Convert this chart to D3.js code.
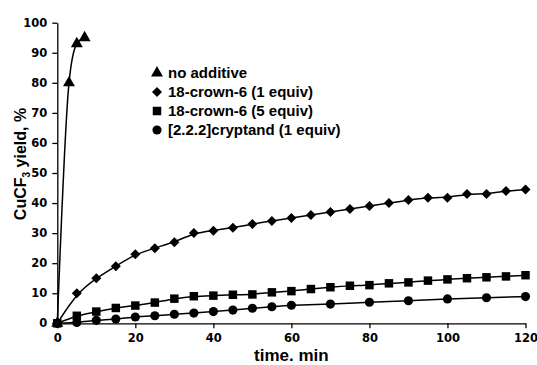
<!DOCTYPE html>
<html>
<head>
<meta charset="utf-8">
<script src="https://cdn.jsdelivr.net/npm/d3@7"></script>
<style>
  html, body { margin: 0; padding: 0; background: #fff; }
  svg { display: block; }
</style>
</head>
<body>
<svg id="chart"></svg>
<script>
// data (time in min, yield in %)
const noAdditiveT = [0, 3, 5, 7];
const noAdditiveY = [0, 80, 93, 95];

const crown1T = [0, 5, 10, 15, 20, 25, 30, 35, 40, 45, 50, 55, 60, 65, 70, 75, 80, 85, 90, 95, 100, 105, 110, 115, 120];
const crown1Y = [0, 10, 15, 19, 23, 25, 27, 30, 30.8, 31.8, 33, 34, 35, 36, 37, 38, 39, 40, 41, 41.8, 41.8, 43, 43, 44, 44.5];

const crown5T = [0, 5, 10, 15, 20, 25, 30, 35, 40, 45, 50, 55, 60, 65, 70, 75, 80, 85, 90, 95, 100, 105, 110, 115, 120];
const crown5Y = [0, 2.5, 3.9, 5.1, 5.9, 6.9, 8.2, 9, 9.2, 9.5, 9.6, 10.3, 10.7, 11.4, 12, 12.5, 12.7, 13.3, 13.6, 14.2, 14.6, 15, 15.3, 15.6, 16];

const cryptT = [0, 5, 10, 15, 20, 25, 30, 35, 40, 45, 50, 55, 60, 70, 80, 90, 100, 110, 120];
const cryptY = [0, 0.3, 1, 1.4, 2.1, 2.5, 3, 3.4, 3.9, 4.4, 5, 5.5, 6, 6.4, 7, 7.5, 8.1, 8.5, 8.9];

const xTicks = [0, 20, 40, 60, 80, 100, 120];
const yTicks = [0, 10, 20, 30, 40, 50, 60, 70, 80, 90, 100];

const seriesNames = ['no additive', '18-crown-6 (1 equiv)', '18-crown-6 (5 equiv)', '[2.2.2]cryptand (1 equiv)'];

const width = 537;
const height = 365;
const marginLeft = 57.3;
const marginRight = 11.5;
const marginTop = 22.7;
const marginBottom = 41.7;

const tickFont = '"DejaVu Sans", sans-serif';
const textFont = '"Liberation Sans", Arial, sans-serif';

const zip = (ts, ys) => ts.map((t, i) => ({ t: t, y: ys[i] }));

// diamond = square turned 45deg
const series = [
  { name: seriesNames[0], data: zip(noAdditiveT, noAdditiveY), symbol: d3.symbolTriangle, size: 62, rot: 0, curve: d3.curveMonotoneX },
  { name: seriesNames[1], data: zip(crown1T, crown1Y), symbol: d3.symbolSquare, size: 50, rot: 45, curve: d3.curveBasis },
  { name: seriesNames[2], data: zip(crown5T, crown5Y), symbol: d3.symbolSquare, size: 72, rot: 0, curve: d3.curveBasis },
  { name: seriesNames[3], data: zip(cryptT, cryptY), symbol: d3.symbolCircle, size: 66, rot: 0, curve: d3.curveBasis }
];

const x = d3.scaleLinear().domain([0, 120]).range([marginLeft, width - marginRight]);
const y = d3.scaleLinear().domain([0, 100]).range([height - marginBottom, marginTop]);

const svg = d3.select('#chart').attr('width', width).attr('height', height);

// x-axis
const xAxis = svg.append('g')
  .attr('transform', `translate(0,${y(0)})`)
  .call(d3.axisBottom(x).tickValues(xTicks).tickSize(5).tickPadding(6).tickSizeOuter(0));
xAxis.select('.domain').attr('stroke-width', 1.3);
xAxis.selectAll('.tick line').attr('stroke-width', 1.3);
xAxis.selectAll('text')
  .attr('font-family', tickFont).attr('font-weight', 'bold').attr('font-size', 11.5).attr('fill', '#000');

// y-axis
const yAxis = svg.append('g')
  .attr('transform', `translate(${x(0)},0)`)
  .call(d3.axisLeft(y).tickValues(yTicks).tickSize(5).tickPadding(5).tickSizeOuter(0));
yAxis.select('.domain').attr('stroke-width', 1.3);
yAxis.selectAll('.tick line').attr('stroke-width', 1.3);
yAxis.selectAll('text')
  .attr('font-family', tickFont).attr('font-weight', 'bold').attr('font-size', 11.5).attr('fill', '#000');

// axis titles
svg.append('text')
  .attr('x', (x(0) + x(120)) / 2)
  .attr('y', 361)
  .attr('text-anchor', 'middle')
  .attr('font-family', textFont).attr('font-weight', 'bold').attr('font-size', 17)
  .text('time. min');

const yTitle = svg.append('text')
  .attr('transform', 'translate(26,164) rotate(-90)')
  .attr('text-anchor', 'middle')
  .attr('font-family', textFont).attr('font-weight', 'bold').attr('font-size', 16);
yTitle.append('tspan').text('CuCF');
yTitle.append('tspan').attr('font-size', 10).attr('dy', 4).text('3');
yTitle.append('tspan').attr('dy', -4).text('\u00a0yield, %');

// lines
series.forEach(s => {
  const line = d3.line()
    .x(d => x(d.t))
    .y(d => y(d.y))
    .curve(s.curve);
  svg.append('path')
    .attr('d', line(s.data))
    .attr('fill', 'none')
    .attr('stroke', '#000')
    .attr('stroke-width', 1.5);
});

// markers
series.forEach(s => {
  const sym = d3.symbol().type(s.symbol).size(s.size);
  svg.append('g')
    .selectAll('path')
    .data(s.data)
    .join('path')
    .attr('transform', d => `translate(${x(d.t)},${y(d.y)}) rotate(${s.rot})`)
    .attr('d', sym)
    .attr('fill', '#000');
});

// legend
const legend = svg.append('g').attr('transform', 'translate(157,73)');
const rows = legend.selectAll('g')
  .data(series)
  .join('g')
  .attr('transform', (d, i) => `translate(0,${i * 19})`);
rows.append('path')
  .attr('d', d => d3.symbol().type(d.symbol).size(d.size)())
  .attr('transform', d => `rotate(${d.rot})`)
  .attr('fill', '#000');
rows.append('text')
  .attr('x', 11)
  .attr('dy', '0.36em')
  .attr('font-family', textFont).attr('font-weight', 'bold').attr('font-size', 15)
  .text(d => d.name);
</script>
</body>
</html>
